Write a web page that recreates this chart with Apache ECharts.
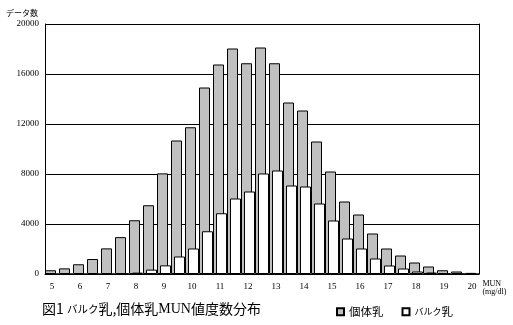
<!DOCTYPE html>
<html>
<head>
<meta charset="utf-8">
<script src="https://cdn.jsdelivr.net/npm/echarts@6/dist/echarts.min.js"></script>
<style>
html,body{margin:0;padding:0;background:#fff;}
#chart{width:513px;height:325px;}
</style>
</head>
<body>
<div id="chart"></div>
<script>
// MUN classes (mg/dl), 0.5 steps
var categories = ['5','5.5','6','6.5','7','7.5','8','8.5','9','9.5','10','10.5','11','11.5','12','12.5','13','13.5','14','14.5','15','15.5','16','16.5','17','17.5','18','18.5','19','19.5','20'];
// 個体乳 (individual milk) counts
var kotaiValues = [300,450,780,1200,2050,2950,4300,5500,8050,10680,11740,14920,16760,18040,16860,18120,16860,13720,13080,10600,8200,5800,4760,3240,2040,1480,920,600,300,200,90];
// バルク乳 (bulk milk) counts
var barukuValues = [0,0,0,0,0,40,110,350,690,1400,2040,3420,4860,6040,6600,8040,8280,7080,7000,5640,4280,2840,2040,1240,680,440,200,120,40,20,0];
var yTicks = [0,4000,8000,12000,16000,20000];
var seriesNames = ['個体乳','バルク乳'];

var chart = echarts.init(document.getElementById('chart'), null, {renderer:'canvas'});
var serif = '"Liberation Serif","DejaVu Serif",serif';
var jp = '"Noto Sans CJK JP","Noto Sans",sans-serif';
chart.setOption({
  animation:false,
  backgroundColor:'#fff',
  title:{
    text:'図1 {k|バルク}乳,個体乳{m|MUN}値度数分布',
    left:37, top:297,
    textStyle:{fontFamily:jp,fontSize:14,fontWeight:'normal',color:'#000',
      rich:{k:{fontFamily:jp,fontSize:10.5,color:'#000'},m:{fontFamily:serif,fontSize:14,color:'#000'}}}
  },
  legend:{
    data:seriesNames,
    left:331, top:301,
    icon:'rect', itemWidth:7, itemHeight:7, itemGap:18,
    textStyle:{fontFamily:jp,fontSize:11.5,color:'#000',
      rich:{k:{fontFamily:jp,fontSize:9,color:'#000'}}},
    formatter:function(n){return n==='バルク乳' ? '{k|バルク}乳' : n;}
  },
  grid:{left:45,right:34,top:24,bottom:51,containLabel:false},
  xAxis:{
    type:'category',
    data:categories,
    boundaryGap:true,
    name:'MUN\n(mg/dl)',
    nameLocation:'end',
    nameGap:2,
    nameTextStyle:{fontFamily:serif,fontSize:8,color:'#000',align:'left',verticalAlign:'top',lineHeight:8,padding:[6,0,0,0]},
    axisLine:{show:true,lineStyle:{color:'#000',width:1}},
    axisTick:{show:false},
    axisLabel:{interval:1,fontFamily:serif,fontSize:9,color:'#000',margin:8},
    splitLine:{show:false}
  },
  yAxis:[{
    type:'value',
    min:yTicks[0], max:yTicks[yTicks.length-1], interval:4000,
    name:'データ数',
    nameLocation:'end',
    nameGap:7,
    nameTextStyle:{fontFamily:jp,fontSize:8,color:'#000',align:'right',padding:[0,7,0,0]},
    axisLine:{show:true,lineStyle:{color:'#000',width:1}},
    axisTick:{show:false},
    axisLabel:{fontFamily:serif,fontSize:9,color:'#000',margin:6,formatter:function(v){return String(v);}},
    splitLine:{show:true,lineStyle:{color:'#000',width:1}}
  },{
    type:'value', position:'right',
    min:yTicks[0], max:yTicks[yTicks.length-1], interval:4000,
    axisLine:{show:true,lineStyle:{color:'#000',width:1}},
    axisTick:{show:false}, axisLabel:{show:false}, splitLine:{show:false}
  }],
  series:[{
    name:seriesNames[0], type:'bar', data:kotaiValues,
    barWidth:11, barGap:'-73%',
    itemStyle:{color:'#c0c0c0',borderColor:'#000',borderWidth:1}
  },{
    name:seriesNames[1], type:'bar', data:barukuValues,
    barWidth:11,
    itemStyle:{color:'#fff',borderColor:'#000',borderWidth:1}
  }]
});
</script>
</body>
</html>
